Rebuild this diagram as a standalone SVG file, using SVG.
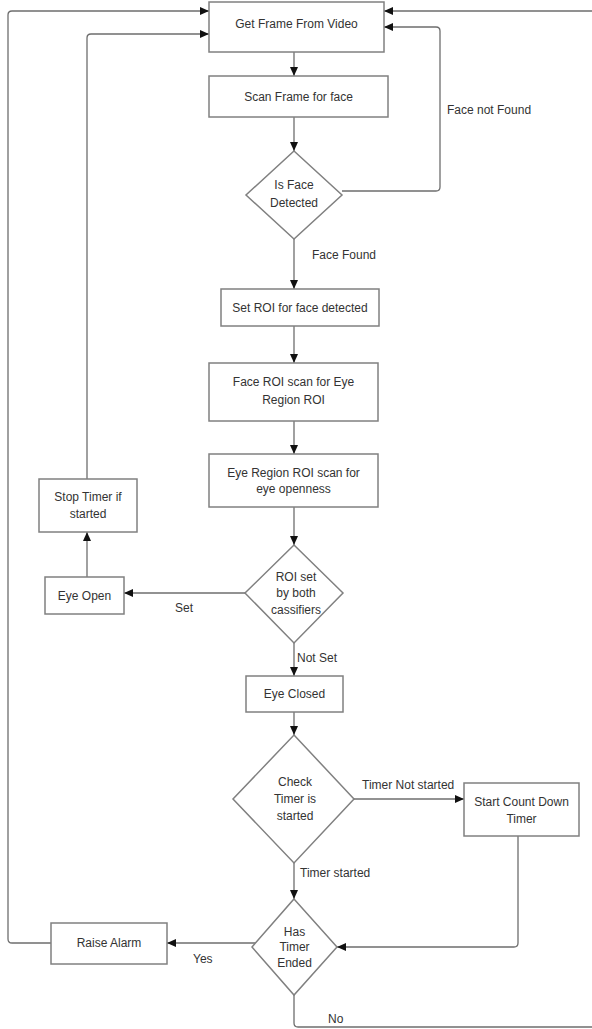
<svg xmlns="http://www.w3.org/2000/svg" width="592" height="1029" viewBox="0 0 592 1029">
<style>
.box{fill:#fff;stroke:#808080;stroke-width:1.5}
.t{font-family:"Liberation Sans",Arial,sans-serif;font-size:12px;fill:#333;text-anchor:middle}
.l{font-family:"Liberation Sans",Arial,sans-serif;font-size:12px;fill:#333}
.c{fill:none;stroke:#6e6e6e;stroke-width:1.3;marker-end:url(#ah)}
</style>
<defs>
<marker id="ah" markerUnits="userSpaceOnUse" markerWidth="10" markerHeight="10" viewBox="0 0 10 10" refX="9" refY="5" orient="auto">
<path d="M0,1 L9,5 L0,9 Z" fill="#111"/>
</marker>
</defs>
<rect width="592" height="1029" fill="#fff"/>
<g id="connectors">
<path class="c" d="M294 52 V76"/>
<path class="c" d="M294 117 V151"/>
<path class="c" d="M342 191 H436 Q440 191 440 187 V31 Q440 27 436 27 H384"/>
<path class="c" d="M294 239 V289"/>
<path class="c" d="M294 326 V363"/>
<path class="c" d="M294 421 V454"/>
<path class="c" d="M294 507 V545"/>
<path class="c" d="M245 593 H124"/>
<path class="c" d="M87 577 V532"/>
<path class="c" d="M87 479 V38 Q87 34 91 34 H209"/>
<path class="c" d="M294 643 V676"/>
<path class="c" d="M294 712 V735"/>
<path class="c" d="M354 799 H464"/>
<path class="c" d="M294 863 V899"/>
<path class="c" d="M518 836 V943 Q518 947 514 947 H337"/>
<path class="c" d="M256 943 H167"/>
<path class="c" d="M51 943 H12 Q8 943 8 939 V15 Q8 11 12 11 H209"/>
<path class="c" d="M294 995 V1023 Q294 1027 298 1027 H597 V11 H384"/>
</g>
<g id="labels">
<text class="l" x="447" y="114">Face not Found</text>
<text class="l" x="312" y="259">Face Found</text>
<text class="l" x="175" y="612">Set</text>
<text class="l" x="297" y="662">Not Set</text>
<text class="l" x="362" y="789">Timer Not started</text>
<text class="l" x="300" y="877">Timer started</text>
<text class="l" x="193" y="963">Yes</text>
<text class="l" x="328" y="1023">No</text>
</g>
<g id="getFrame"><rect class="box" x="209" y="2" width="175" height="50"/><text class="t" x="296.5" y="28">Get Frame From Video</text></g>
<g id="scanFrame"><rect class="box" x="209" y="76" width="179" height="41"/><text class="t" x="298.5" y="101">Scan Frame for face</text></g>
<g id="isFace"><polygon class="box" points="294,151 342,195 294,239 246,195"/><text class="t" x="294" y="189">Is Face</text><text class="t" x="294" y="207">Detected</text></g>
<g id="setROI"><rect class="box" x="221" y="289" width="158" height="37"/><text class="t" x="300" y="312">Set ROI for face detected</text></g>
<g id="faceROI"><rect class="box" x="209" y="363" width="169" height="58"/><text class="t" x="293.5" y="386">Face ROI scan for Eye</text><text class="t" x="293.5" y="404">Region ROI</text></g>
<g id="eyeRegion"><rect class="box" x="209" y="454" width="169" height="53"/><text class="t" x="293.5" y="477">Eye Region ROI scan for</text><text class="t" x="293.5" y="493">eye openness</text></g>
<g id="roiSet"><polygon class="box" points="294,545 343,593 294,643 245,593"/><text class="t" x="296" y="581">ROI set</text><text class="t" x="296" y="597">by both</text><text class="t" x="296" y="614">cassifiers</text></g>
<g id="stopTimer"><rect class="box" x="39" y="479" width="98" height="53"/><text class="t" x="88" y="501">Stop Timer if</text><text class="t" x="88" y="518">started</text></g>
<g id="eyeOpen"><rect class="box" x="45" y="577" width="79" height="37"/><text class="t" x="84.5" y="600">Eye Open</text></g>
<g id="eyeClosed"><rect class="box" x="246" y="676" width="97" height="36"/><text class="t" x="294.5" y="698">Eye Closed</text></g>
<g id="checkTimer"><polygon class="box" points="294,735 354,799 294,863 233,799"/><text class="t" x="295" y="786">Check</text><text class="t" x="295" y="803">Timer is</text><text class="t" x="295" y="820">started</text></g>
<g id="startCount"><rect class="box" x="464" y="783" width="115" height="53"/><text class="t" x="521.5" y="806">Start Count Down</text><text class="t" x="521.5" y="823">Timer</text></g>
<g id="hasTimer"><polygon class="box" points="294,899 337,947 294,995 252,947"/><text class="t" x="294.5" y="936">Has</text><text class="t" x="294.5" y="951">Timer</text><text class="t" x="294.5" y="967">Ended</text></g>
<g id="raiseAlarm"><rect class="box" x="51" y="923" width="116" height="41"/><text class="t" x="109" y="947">Raise Alarm</text></g>
</svg>
